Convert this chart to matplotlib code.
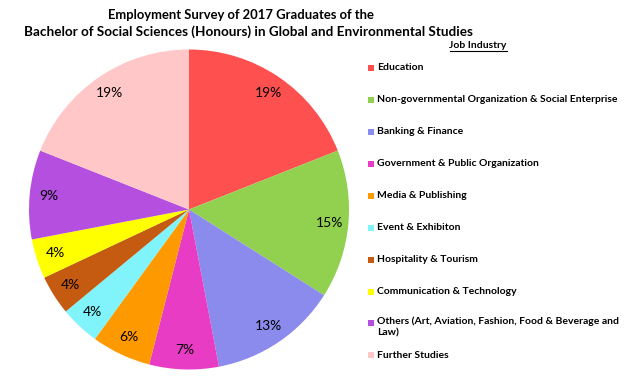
import matplotlib
matplotlib.use("Agg")
import matplotlib.pyplot as plt
from matplotlib.patches import Rectangle
from matplotlib.lines import Line2D

categories = ["Education",
              "Non-governmental Organization & Social Enterprise",
              "Banking & Finance",
              "Government & Public Organization",
              "Media & Publishing",
              "Event & Exhibiton",
              "Hospitality & Tourism",
              "Communication & Technology",
              "Others (Art, Aviation, Fashion, Food & Beverage and\nLaw)",
              "Further Studies"]
values = [19, 15, 13, 7, 6, 4, 4, 4, 9, 19]
colors = ["#FF5050", "#92D050", "#8B8BEE", "#E83CC4", "#FF9900",
          "#80F4FA", "#C55A11", "#FFFF00", "#B44FE0", "#FFC7C8"]

plt.rcParams['font.family'] = ['Lato', 'DejaVu Sans']
fig = plt.figure(figsize=(6.4, 3.78), dpi=100)
W, H = 640, 378
cx, cy, r = 189, 209.5, 160
ax = fig.add_axes([(cx - r) / W, (H - cy - r) / H, 2 * r / W, 2 * r / H])
wedges, texts, autotexts = ax.pie(values, colors=colors, startangle=90, counterclock=False,
                                  autopct=lambda p: f"{p:.0f}%", pctdistance=0.88,
                                  textprops=dict(fontsize=10, color="black"))
ax.set_xlim(-1, 1)
ax.set_ylim(-1, 1)
ax.set_aspect('auto')
ax.axis('off')

fig.text(241 / W, 1 - 15 / H, "Employment Survey of 2017 Graduates of the",
         ha='center', va='center', fontsize=9.4, fontweight='bold')
fig.text(248 / W, 1 - 32 / H,
         "Bachelor of Social Sciences (Honours) in Global and Environmental Studies",
         ha='center', va='center', fontsize=9.7, fontweight='bold')

fig.text(478 / W, 1 - 45 / H, "Job Industry", ha='center', va='center',
         fontsize=7.5, fontweight='bold')
fig.add_artist(Line2D([450 / W, 507 / W], [1 - 50.5 / H, 1 - 50.5 / H],
                      color='black', lw=0.8, transform=fig.transFigure))

ys = [68, 100, 132, 164, 196, 228, 260, 292, 323, 355]
for cat, col, y in zip(categories, colors, ys):
    fig.add_artist(Rectangle((368 / W, 1 - (y + 3) / H), 6 / W, 6 / H,
                             facecolor=col, edgecolor='none', transform=fig.transFigure))
    if '\n' in cat:
        fig.text(377 / W, 1 - (y - 6.5) / H, cat, ha='left', va='top',
                 fontsize=7.5, fontweight='bold', linespacing=1.3)
    else:
        fig.text(377 / W, 1 - y / H, cat, ha='left', va='center',
                 fontsize=7.5, fontweight='bold')

fig.savefig("out.png", dpi=100)
